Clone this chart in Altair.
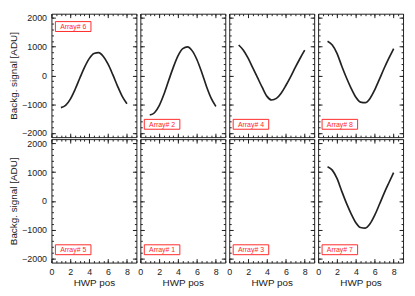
import altair as alt
import pandas as pd

# ---- data ----
hwp_pos = [1.0, 1.5, 2.0, 2.5, 3.0, 3.5, 4.0, 4.5, 5.0, 5.5, 6.0, 6.5, 7.0, 7.5, 8.0]
array6 = [-1120, -1045, -825, -490, -100, 280, 585, 765, 795, 660, 390, 25, -370, -730, -990]
array2 = [-1380, -1300, -1050, -655, -180, 290, 690, 935, 995, 855, 545, 110, -375, -790, -1080]
array4 = [1060, 880, 600, 260, -80, -420, -730, -855, -800, -620, -350, -50, 280, 590, 880]
array8 = [1190, 1060, 770, 330, -80, -450, -760, -930, -950, -800, -500, -130, 250, 600, 930]
array7 = [1190, 1070, 780, 340, -80, -450, -760, -930, -950, -800, -500, -120, 270, 630, 980]

panel_rows = [["6", "2", "4", "8"], ["5", "1", "3", "7"]]
signals = {"6": array6, "2": array2, "4": array4, "8": array8, "7": array7}

x_major = [0, 2, 4, 6, 8]
x_minor = [0, 0.5, 1, 1.5, 2, 2.5, 3, 3.5, 4, 4.5, 5, 5.5, 6, 6.5, 7, 7.5, 8, 8.5, 9]
y_major = [-2000, -1000, 0, 1000, 2000]
y_minor = [-2000, -1800, -1600, -1400, -1200, -1000, -800, -600, -400, -200, 0,
           200, 400, 600, 800, 1000, 1200, 1400, 1600, 1800, 2000]
x_domain = [0, 9]
y_domain = [-2150, 2150]

x_title = "HWP pos"
y_title = "Backg. signal [ADU]"

# ---- style ----
W, H = 86, 125
MAJ, MIN = 4, 2
FONT = "Liberation Sans"
INK = "#222222"
RED = "#ff2a2a"

frame = pd.DataFrame({"x": x_domain, "y": y_domain})


def panel(name, row, col):
    vals = signals.get(name, [])
    if vals:
        df = pd.DataFrame({"x": hwp_pos, "y": vals})
    else:
        df = pd.DataFrame({"x": pd.Series([], dtype=float), "y": pd.Series([], dtype=float)})
    bottom_row = row == 1
    left_col = col == 0
    xs = alt.Scale(domain=x_domain, nice=False, zero=False)
    ys = alt.Scale(domain=y_domain, nice=False, zero=False)

    xkw = dict(orient="bottom", values=x_major, tickSize=MAJ, offset=-MAJ, format="d",
               labels=bottom_row, labelPadding=5, labelFlush=False, titlePadding=1)
    xkw["title"] = x_title if bottom_row else None
    ykw = dict(orient="left", values=y_major, tickSize=MAJ, offset=-MAJ, format="d",
               labels=left_col, labelPadding=5)
    if left_col:
        ykw["title"] = y_title
        ykw["titleX"] = -37
    else:
        ykw["title"] = None

    line = alt.Chart(df).mark_line(color=INK, strokeWidth=1.7, interpolate="monotone").encode(
        x=alt.X("x:Q", scale=xs, axis=alt.Axis(**xkw)),
        y=alt.Y("y:Q", scale=ys, axis=alt.Axis(**ykw)),
    )

    def ghost(xax, yax):
        return alt.Chart(frame).mark_point(opacity=0).encode(
            x=alt.X("x:Q", scale=xs, axis=xax),
            y=alt.Y("y:Q", scale=ys, axis=yax),
        )

    top_right = ghost(
        alt.Axis(orient="top", values=x_major, tickSize=MAJ, offset=-MAJ, labels=False, title=None),
        alt.Axis(orient="right", values=y_major, tickSize=MAJ, offset=-MAJ, labels=False, title=None),
    )
    minor_bl = ghost(
        alt.Axis(orient="bottom", values=x_minor, tickSize=MIN, offset=-MIN, labels=False, title=None),
        alt.Axis(orient="left", values=y_minor, tickSize=MIN, offset=-MIN, labels=False, title=None),
    )
    minor_tr = ghost(
        alt.Axis(orient="top", values=x_minor, tickSize=MIN, offset=-MIN, labels=False, title=None),
        alt.Axis(orient="right", values=y_minor, tickSize=MIN, offset=-MIN, labels=False, title=None),
    )

    lab = pd.DataFrame({"label": [f"Array# {name}"]})
    y0 = 8 if (row == 0 and col == 0) else H - 18
    box = alt.Chart(lab).mark_rect(fill="white", stroke=RED, strokeWidth=1).encode(
        x=alt.value(4), x2=alt.value(40), y=alt.value(y0), y2=alt.value(y0 + 10)
    )
    txt = alt.Chart(lab).mark_text(color=RED, font=FONT, fontSize=7, align="center",
                                   baseline="middle").encode(
        x=alt.value(22), y=alt.value(y0 + 5.5), text="label:N"
    )

    return alt.layer(line, top_right, minor_bl, minor_tr, box, txt).resolve_axis(
        x="independent", y="independent"
    ).properties(width=W, height=H)


panels = []
for r, names in enumerate(panel_rows):
    for c, n in enumerate(names):
        panels.append(panel(n, r, c))

chart = alt.concat(*panels, columns=4, spacing={"row": 2, "column": 4}, bounds="flush").properties(
    padding=0
).configure_view(
    stroke=INK, strokeWidth=1
).configure_axis(
    domain=False, grid=False, tickColor=INK, tickWidth=1,
    labelColor=INK, titleColor=INK, labelFont=FONT, titleFont=FONT,
    labelFontSize=9, titleFontSize=10, titleFontWeight="normal",
)

chart.save("out.html", embed_options={"renderer": "svg", "actions": False})
